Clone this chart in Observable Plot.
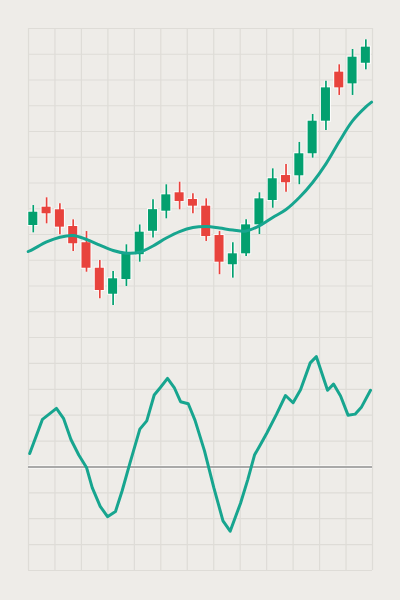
<!DOCTYPE html>
<html><head><meta charset="utf-8">
<script src="https://cdn.jsdelivr.net/npm/d3@7"></script>
<script src="https://cdn.jsdelivr.net/npm/@observablehq/plot@0.6"></script>
<style>
html,body{margin:0;padding:0;background:#eeece8;}
#chart svg{display:block;background:#eeece8;}
</style>
</head><body><div id="chart"></div>
<script>
// Candles (index 0..25)
const opens  = [96.70, 98.12, 97.92, 96.62, 95.36, 93.38, 91.36, 92.50, 94.43, 96.25, 97.81, 99.24, 98.72, 98.20, 95.92, 93.65, 94.50, 96.75, 98.64, 100.58, 100.56, 102.27, 104.80, 108.61, 107.70, 109.30];
const closes = [97.73, 97.61, 96.57, 95.28, 93.38, 91.65, 92.56, 94.49, 96.18, 97.93, 99.08, 98.56, 98.20, 95.84, 93.85, 94.50, 96.75, 98.77, 100.33, 100.02, 102.27, 104.80, 107.39, 107.39, 109.77, 110.55];
const highs  = [98.25, 98.85, 98.38, 97.14, 96.23, 93.98, 93.13, 95.20, 96.74, 98.70, 99.86, 100.06, 99.16, 98.77, 96.23, 95.36, 97.14, 99.24, 101.10, 101.44, 103.15, 105.32, 107.91, 109.18, 110.37, 111.12];
const lows   = [96.13, 96.83, 95.98, 94.68, 93.07, 91.01, 90.49, 91.96, 93.85, 95.73, 97.22, 97.92, 97.61, 95.46, 92.88, 92.61, 94.29, 96.00, 98.04, 99.29, 99.87, 101.93, 104.08, 106.80, 106.80, 108.79];

// Moving average line
const maX = [-0.38, 0, 1, 2, 3, 4, 5, 6, 7, 8, 9, 10, 11, 12, 13, 14, 15, 16, 17, 18, 19, 20, 21, 22, 23, 24, 25, 25.43];
const maY = [94.68, 94.87, 95.42, 95.79, 95.92, 95.61, 95.18, 94.76, 94.55, 94.63, 95.11, 95.73, 96.23, 96.54, 96.62, 96.50, 96.35, 96.27, 96.68, 97.32, 97.94, 98.87, 100.04, 101.48, 103.22, 104.82, 105.91, 106.28];

// Oscillator line
const oscX = [-0.27, 0.69, 1.74, 2.27, 2.83, 3.42, 4.00, 4.43, 5.03, 5.58, 6.18, 6.68, 7.26, 8.01, 8.53, 9.09, 9.54, 10.09, 10.62, 11.07, 11.65, 12.16, 12.87, 13.57, 14.26, 14.80, 15.58, 16.13, 16.63, 17.05, 17.57, 18.29, 18.96, 19.53, 20.09, 20.82, 21.28, 22.12, 22.57, 23.10, 23.66, 24.19, 24.68, 25.35];
const oscY = [0.26, 0.92, 1.13, 0.94, 0.53, 0.23, -0.01, -0.40, -0.76, -0.96, -0.86, -0.46, 0.07, 0.73, 0.89, 1.39, 1.53, 1.71, 1.52, 1.26, 1.22, 0.90, 0.31, -0.40, -1.04, -1.24, -0.70, -0.24, 0.23, 0.42, 0.66, 1.02, 1.38, 1.24, 1.49, 2.01, 2.13, 1.48, 1.60, 1.37, 1.00, 1.02, 1.16, 1.48];

const green = "#03a06f", red = "#e8433d", teal = "#17a58f";
const gridColor = "#dedcd7", bg = "#eeece8";
const xDomain = [-0.36, 25.5];

const candles = opens.map((o, i) => ({i, open: o, close: closes[i], high: highs[i], low: lows[i], up: closes[i] >= o}));
const ups = candles.filter(d => d.up), downs = candles.filter(d => !d.up);
const ma = maX.map((x, k) => ({x, y: maY[k]}));
const osc = oscX.map((x, k) => ({x, y: oscY[k]}));

const gx = d3.range(14).map(k => xDomain[0] + k * (xDomain[1] - xDomain[0]) / 13);
const gyPrice = d3.range(88, 112.01, 2);
const gyOsc = d3.range(-2, 2.51, 0.5);

const bw = 0.34;

const p1 = Plot.plot({
  width: 400, height: 337,
  marginTop: 28, marginBottom: 0, marginLeft: 28, marginRight: 28,
  style: {background: bg},
  x: {domain: xDomain, axis: null},
  y: {domain: [88, 112], axis: null},
  marks: [
    Plot.gridX(gx, {stroke: gridColor, strokeOpacity: 1, strokeWidth: 1.2}),
    Plot.gridY(gyPrice, {stroke: gridColor, strokeOpacity: 1, strokeWidth: 1.2}),
    Plot.ruleX(candles, {x: "i", y1: "low", y2: "high", stroke: "#ffffff", strokeWidth: 3.6, strokeOpacity: 0.85}),
    Plot.rectY(candles, {x1: d => d.i - bw, x2: d => d.i + bw, y1: "open", y2: "close", fill: "#ffffff", stroke: "#ffffff", strokeWidth: 2, strokeOpacity: 0.85}),
    Plot.ruleX(ups, {x: "i", y1: "low", y2: "high", stroke: green, strokeWidth: 1.7}),
    Plot.ruleX(downs, {x: "i", y1: "low", y2: "high", stroke: red, strokeWidth: 1.7}),
    Plot.rectY(ups, {x1: d => d.i - bw, x2: d => d.i + bw, y1: "open", y2: "close", fill: green}),
    Plot.rectY(downs, {x1: d => d.i - bw, x2: d => d.i + bw, y1: "open", y2: "close", fill: red}),
    Plot.line(ma, {x: "x", y: "y", stroke: teal, strokeWidth: 3, curve: "catmull-rom"})
  ]
});

const p2 = Plot.plot({
  width: 400, height: 263,
  marginTop: 0, marginBottom: 30, marginLeft: 28, marginRight: 28,
  style: {background: bg},
  x: {domain: xDomain, axis: null},
  y: {domain: [-2, 2.5], axis: null},
  marks: [
    Plot.gridX(gx, {stroke: gridColor, strokeOpacity: 1, strokeWidth: 1.2}),
    Plot.gridY(gyOsc, {stroke: gridColor, strokeOpacity: 1, strokeWidth: 1.2}),
    Plot.ruleY([0], {stroke: "#ffffff", strokeWidth: 3.5, strokeOpacity: 0.7}),
    Plot.ruleY([0], {stroke: "#8f8f8f", strokeWidth: 1.5}),
    Plot.line(osc, {x: "x", y: "y", stroke: teal, strokeWidth: 3, strokeLinejoin: "round"})
  ]
});

document.getElementById("chart").append(p1, p2);
</script>
</body></html>
